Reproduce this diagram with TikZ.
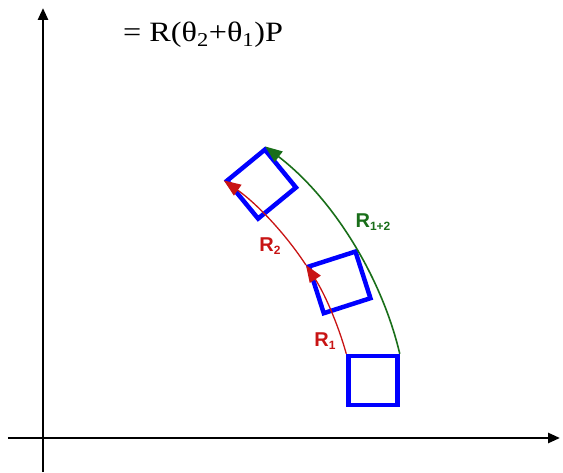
\documentclass[tikz,border=0pt]{standalone}
\usepackage{fontspec}
\setmainfont{Liberation Serif}
\newfontfamily\lblfont{Liberation Sans}
\usetikzlibrary{arrows.meta, calc}
\definecolor{cBlue}{RGB}{0,0,255}
\definecolor{cRed}{RGB}{200,20,20}
\definecolor{cGreen}{RGB}{25,110,25}
\tikzset{
	axis/.style  ={line width=2.6pt, -{Triangle[length=12pt, width=10pt]}},
	sq/.style    ={rectangle, draw=cBlue, line width=4.5pt, minimum size=49pt, inner sep=0pt},
	rotarc/.style={line width=1.3pt, -{Triangle[length=17pt, width=13pt]}},
	lbl/.style   ={font=\lblfont\bfseries\fontsize{20}{20}\selectfont, inner sep=0pt},
	eqn/.style   ={font=\fontsize{28}{28}\selectfont, inner sep=0pt, anchor=base west, xscale=1.15},
}
\newcommand{\lsub}[1]{\raisebox{-3pt}{\fontsize{12}{12}\selectfont #1}}

\begin{document}
\begin{tikzpicture}[x=1pt, y=1pt]
	\useasboundingbox (-43,-34) rectangle (520,438);
	\clip (-43,-34) rectangle (520,438);
	% equation lines (the first one is cut by the top edge)
	\node[eqn] (eq1) at (107,445) {R(θ\textsubscript{2})R(θ\textsubscript{1})P};
	\node[eqn] (eq2) at (80,396) {= R(θ\textsubscript{2}+θ\textsubscript{1})P};
	% axes
	\coordinate (O) at (0,0);
	\coordinate (ybot) at (0,-34);
	\coordinate (ytop) at (0,430);
	\coordinate (xleft) at (-35,0);
	\coordinate (xright) at (517,0);
	\draw[axis] (ybot) -- (ytop);
	\draw[axis] (xleft) -- (xright);
	% squares, rotated about the origin
	\node[sq] (p0) at (330,57.5) {};
	\node[sq, rotate=17.8] (p1) at ($(O)!1!17.8:(p0)$) {};
	\node[sq, rotate=39.4] (p2) at ($(O)!1!39.4:(p0)$) {};
	% rotations
	\draw[rotarc, cRed] (p0.north west) to[bend right=8.9, looseness=0.85] (p1.north west);
	\draw[rotarc, cRed] (p1.north west) to[bend right=10.8, looseness=0.85] (p2.north west);
	\draw[rotarc, cGreen, line width=1.6pt] (p0.north east) to[bend right=19.7, looseness=0.85] (p2.north east);
	\node[lbl, cRed] (r1) at (282,97) {R\lsub{1}};
	\node[lbl, cRed] (r2) at (227,192) {R\lsub{2}};
	\node[lbl, cGreen] (r12) at (330,216) {R\lsub{1+2}};
\end{tikzpicture}
\end{document}
